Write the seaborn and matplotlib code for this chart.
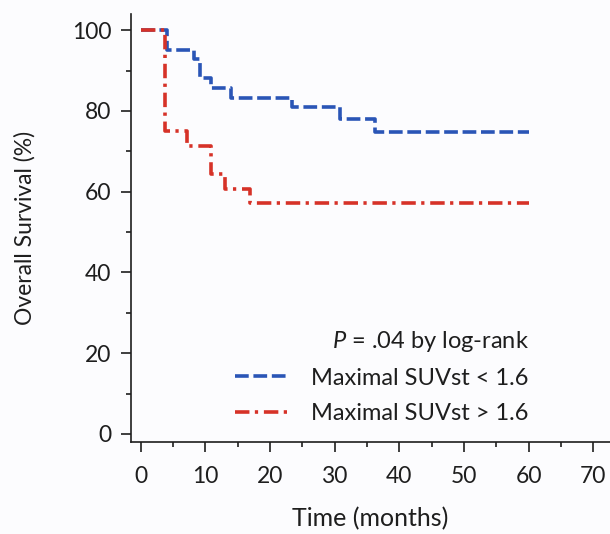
import matplotlib
matplotlib.use("Agg")
import matplotlib.pyplot as plt
import seaborn as sns
import pandas as pd
from matplotlib.ticker import MultipleLocator

# Data
low_label = "Maximal SUVst < 1.6"
high_label = "Maximal SUVst > 1.6"
low_time = [0, 4.0, 8.3, 9.1, 10.9, 14.0, 23.4, 30.9, 36.2, 60]
low_surv = [100, 95.2, 92.9, 88.1, 85.7, 83.3, 80.9, 78.0, 74.8, 74.8]
high_time = [0, 3.8, 7.1, 10.9, 13.0, 16.9, 60]
high_surv = [100, 75.0, 71.4, 64.3, 60.7, 57.1, 57.1]
x_ticks = [0, 10, 20, 30, 40, 50, 60, 70]
y_ticks = [0, 20, 40, 60, 80, 100]
pvalue_text = r"$\it{P}$ = .04 by log-rank"

blue = "#2a55b6"
red = "#d63228"
ink = "#1e1e1e"

df = pd.concat([
    pd.DataFrame({"time": low_time, "surv": low_surv, "group": low_label}),
    pd.DataFrame({"time": high_time, "surv": high_surv, "group": high_label}),
], ignore_index=True)

sns.set_style("ticks")
plt.rcParams["font.family"] = ["Lato", "DejaVu Sans"]
plt.rcParams["mathtext.fontset"] = "custom"
plt.rcParams["mathtext.it"] = "Lato:italic"
plt.rcParams["mathtext.rm"] = "Lato"
bg = "#fcfcfe"

fig = plt.figure(figsize=(6.10, 5.34), dpi=100, facecolor=bg)
ax = fig.add_axes([0.2148, 0.1723, 0.7852, 0.8015], facecolor=bg)

sns.lineplot(data=df, x="time", y="surv", hue="group", style="group",
             palette={low_label: blue, high_label: red},
             dashes={low_label: (3.8, 1.3), high_label: (4.0, 1.5, 0.9, 1.6)},
             estimator=None, sort=False, drawstyle="steps-post",
             linewidth=2.6, legend=False, ax=ax)

ax.set_xlim(-1.5, 72.6)
ax.set_ylim(-2, 104)
ax.set_xticks(x_ticks)
ax.set_yticks(y_ticks)
ax.xaxis.set_minor_locator(MultipleLocator(5))
ax.yaxis.set_minor_locator(MultipleLocator(10))
ax.tick_params(axis="both", which="major", length=7, width=1.2, labelsize=16.5,
               color=ink, labelcolor=ink)
ax.tick_params(axis="x", which="major", pad=10)
ax.tick_params(axis="y", which="major", pad=7)
ax.tick_params(axis="both", which="minor", length=3.6, width=1.2, color=ink)
for s in ["top", "right"]:
    ax.spines[s].set_visible(False)
for s in ["left", "bottom"]:
    ax.spines[s].set_linewidth(1.2)
    ax.spines[s].set_color(ink)

ax.set_xlabel("Time (months)", fontsize=18, color=ink, labelpad=15)
ax.set_ylabel("Overall Survival (%)", fontsize=16.5, color=ink, labelpad=26)

handles = ax.get_lines()[:2]
leg = ax.legend(handles, [low_label, high_label], title=pvalue_text,
                loc="lower right", bbox_to_anchor=(0.86, 0.0093), frameon=False,
                fontsize=17, title_fontsize=17, handlelength=2.3,
                handletextpad=0.95, labelspacing=0.6, alignment="right",
                borderaxespad=0.2)
for t in leg.get_texts():
    t.set_color(ink)
leg.get_title().set_color(ink)

fig.savefig("out.png", dpi=100, facecolor=bg)
